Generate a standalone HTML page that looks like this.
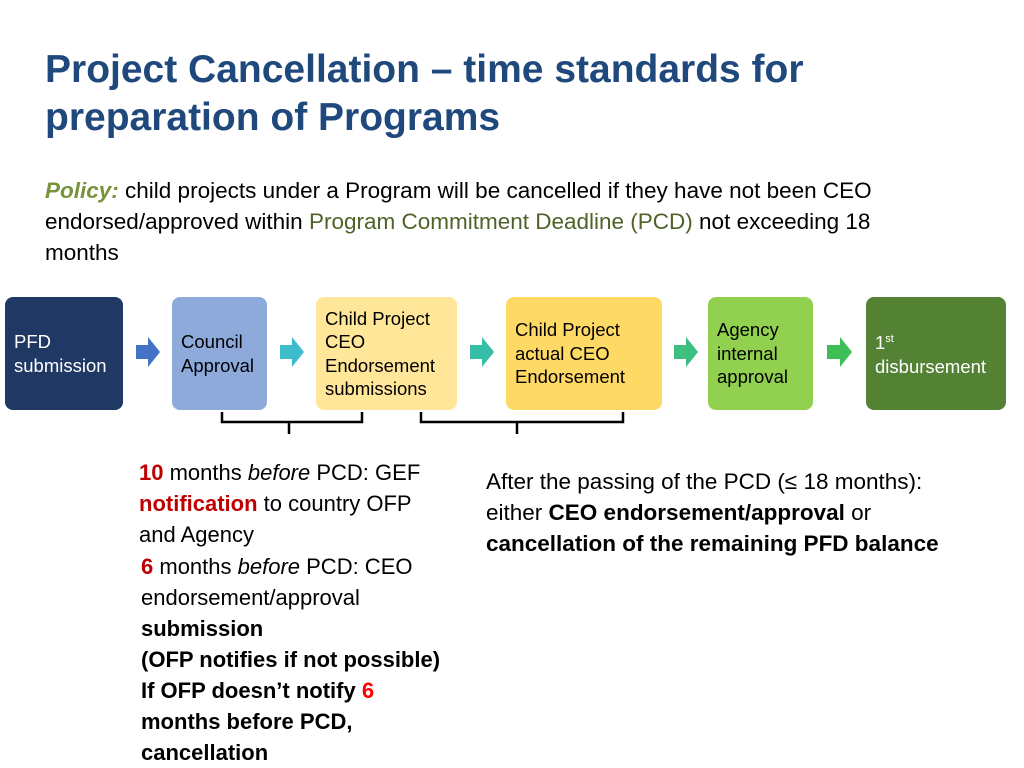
<!DOCTYPE html>
<html><head><meta charset="utf-8"><style>
body{margin:0;width:1024px;height:768px;background:#fff;position:relative;overflow:hidden;font-family:"Liberation Sans",sans-serif;}
.t{position:absolute;white-space:nowrap;line-height:31px;font-size:22px;color:#000;}
.title{position:absolute;left:45px;color:#1f497d;font-weight:bold;font-size:39px;line-height:48px;white-space:nowrap;}
.box{position:absolute;top:297px;height:113px;border-radius:8px;box-sizing:border-box;padding-left:9px;display:flex;align-items:center;font-size:18.5px;line-height:23.5px;white-space:nowrap;}
.red{color:#c00000;font-weight:bold}
b{font-weight:bold}
</style></head><body>
<div class="title" style="top:46px">Project Cancellation – time standards for</div>
<div class="title" style="top:94px">preparation of Programs</div>
<div class="t" style="left:45px;top:175px;font-size:22.5px"><i style="color:#77933c;font-weight:bold">Policy:</i> child projects under a Program will be cancelled if they have not been CEO</div>
<div class="t" style="left:45px;top:206px;font-size:22.5px">endorsed/approved within <span style="color:#4f6228">Program Commitment Deadline (PCD)</span> not exceeding 18</div>
<div class="t" style="left:45px;top:237px;font-size:22.5px">months</div>

<div class="box" style="left:5px;width:118px;background:#1f3864;color:#fff"><div>PFD<br>submission</div></div>
<div class="box" style="left:172px;width:95px;background:#8eaadb;color:#000"><div>Council<br>Approval</div></div>
<div class="box" style="left:316px;width:141px;background:#ffe699;color:#000"><div>Child Project<br>CEO<br>Endorsement<br>submissions</div></div>
<div class="box" style="left:506px;width:156px;background:#ffd966;color:#000"><div>Child Project<br>actual CEO<br>Endorsement</div></div>
<div class="box" style="left:708px;width:105px;background:#92d050;color:#000"><div>Agency<br>internal<br>approval</div></div>
<div class="box" style="left:866px;width:140px;background:#548235;color:#fff"><div>1<sup style="font-size:11px">st</sup><br>disbursement</div></div>

<svg style="position:absolute;left:0;top:0" width="1024" height="768">
<g><path d="M136 345h12v-8l12 15-12 15v-8h-12z" fill="#4472c4"/></g>
<g><path d="M280 345h12v-8l12 15-12 15v-8h-12z" fill="#3dbccb"/></g>
<g><path d="M470 345h12v-8l12 15-12 15v-8h-12z" fill="#36bfa8"/></g>
<g><path d="M674 345h12v-8l12 15-12 15v-8h-12z" fill="#3cbf80"/></g>
<g><path d="M827 345h13v-8l12 15-12 15v-8h-13z" fill="#3dbf55"/></g>
<path d="M222 412v10h140v-10M289 422v12" stroke="#000" stroke-width="2.5" fill="none"/>
<path d="M421 412v10h202v-10M517 422v12" stroke="#000" stroke-width="2.5" fill="none"/>
</svg>

<div class="t" style="left:139px;top:457px">
<span class="red">10</span> months <i>before</i> PCD: GEF<br>
<span class="red">notification</span> to country OFP<br>
and Agency</div>
<div class="t" style="left:141px;top:551px">
<span class="red">6</span> months <i>before</i> PCD: CEO<br>
endorsement/approval<br>
<b>submission</b><br>
<b>(OFP notifies if not possible)</b><br>
<b>If OFP doesn’t notify <span style="color:#ff0000">6</span></b><br>
<b>months before PCD,</b><br>
<b>cancellation</b></div>
<div class="t" style="left:486px;top:466px;font-size:22.5px">After the passing of the PCD (≤ 18 months):<br>
either <b>CEO endorsement/approval</b> or<br>
<b>cancellation of the remaining PFD balance</b></div>
</body></html>
